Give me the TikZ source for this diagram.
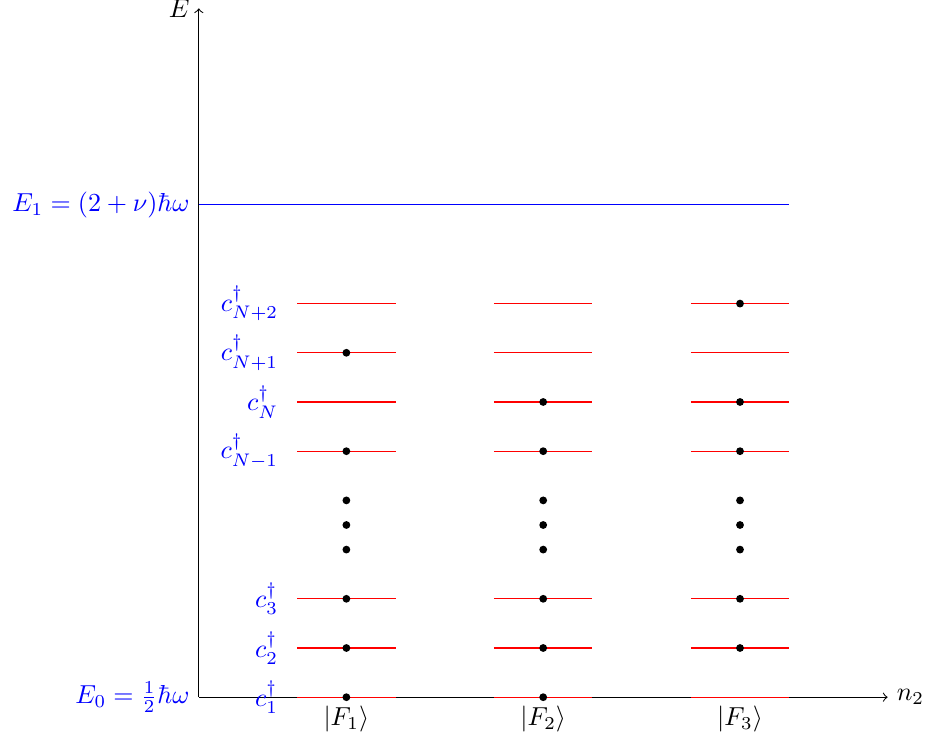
\documentclass[tikz,border=0pt]{standalone}
\begin{document}
\begin{tikzpicture}[x=0.665cm,y=0.665cm,
  level/.style={red},
  lbl/.style={blue},
  occ/.style={fill=black},
  axis/.style={->}]
\useasboundingbox (-4.04,-0.87) rectangle (14.76,14.17);
% axes
\coordinate (O) at (0,0);
\coordinate (Etop) at (0,14);
\coordinate (Nright) at (14,0);
\draw[axis] (O) -- (Etop);
\draw[axis] (O) -- (Nright);
\node[left] (Elbl) at (Etop) {$E$};
\node[right] (nlbl) at (Nright) {$n_2$};
% E1 level
\coordinate (E1a) at (0,10.02);
\coordinate (E1b) at (12,10.02);
\draw[blue,line width=0.45pt] (E1a) -- (E1b);
\node[lbl,left] (E1lbl) at (0,10) {$E_1=(2+\nu)\hbar\omega$};
\node[lbl,left] (E0lbl) at (O) {$E_0=\frac{1}{2}\hbar\omega$};
% levels
\foreach \y in {0,1,2,5,6,7,8}{
  \foreach \x in {2,6,10}{
    \draw[level] (\x,\y) -- (\x+2,\y);
  }
}
% level labels
\node[lbl,left] (l1) at (1.8,0) {$c_1^\dagger$};
\node[lbl,left] (l2) at (1.8,1) {$c_2^\dagger$};
\node[lbl,left] (l3) at (1.8,2) {$c_3^\dagger$};
\node[lbl,left] (l5) at (1.8,5) {$c_{N-1}^\dagger$};
\node[lbl,left] (l6) at (1.8,6) {$c_{N}^\dagger$};
\node[lbl,left] (l7) at (1.8,7) {$c_{N+1}^\dagger$};
\node[lbl,left] (l8) at (1.8,8) {$c_{N+2}^\dagger$};
% vertical dots
\foreach \x in {3,7,11}{
  \foreach \y in {3,3.5,4}{
    \fill[occ] (\x,\y) circle (1.5pt);
  }
}
% occupied states
\foreach \y in {0,1,2,5,7}{\fill[occ] (3,\y) circle (1.5pt);}
\foreach \y in {0,1,2,5,6}{\fill[occ] (7,\y) circle (1.5pt);}
\foreach \y in {1,2,5,6,8}{\fill[occ] (11,\y) circle (1.5pt);}
% state labels
\node[below] (F1) at (3,0) {$|F_1\rangle$};
\node[below] (F2) at (7,0) {$|F_2\rangle$};
\node[below] (F3) at (11,0) {$|F_3\rangle$};
\end{tikzpicture}
\end{document}
